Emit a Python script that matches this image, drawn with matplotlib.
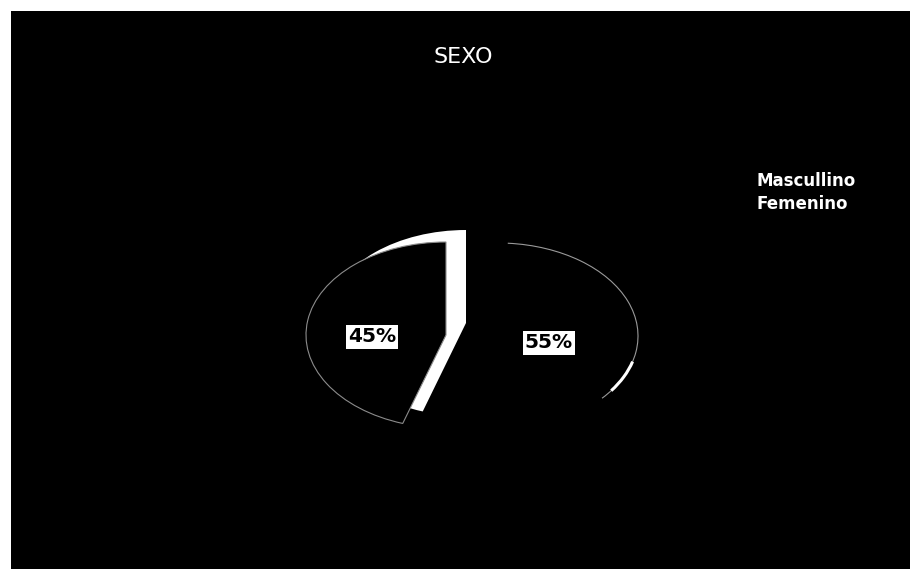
import matplotlib.pyplot as plt
from matplotlib.patches import Rectangle, Arc

# data
labels = ['Mascullino', 'Femenino']
shares = [55, 45]
title = 'SEXO'

# pixel geometry of the reference (910 x 569)
W, H = 910, 569
CX, CY = 466, 323      # centre of the un-shifted pie
RX, RY = 140, 93       # pixels per data unit


def to_data(px, py):
    return (px - CX) / RX, (CY - py) / RY


fig = plt.figure(figsize=(W / 100, H / 100), dpi=100, facecolor='white')

# black page with a thin white margin on top and left (scan)
fig.patches.append(Rectangle((11 / W, 0), 1 - 11 / W, 1 - 11 / H, transform=fig.transFigure,
                             facecolor='black', edgecolor='none', zorder=-5))

ax = fig.add_axes([(CX - 2 * RX) / W, 1 - (CY + 2 * RY) / H, 4 * RX / W, 4 * RY / H])
ax.patch.set_visible(False)

common = dict(startangle=90, counterclock=False)
edge = dict(edgecolor='#8c8c8c', linewidth=0.8)

# white side face of the Femenino slice
under, _ = ax.pie(shares, colors=['none', 'white'], wedgeprops=dict(linewidth=0), **common)
under[0].set_visible(False)

# Femenino slice, shifted left/down
fem, _, fem_txt = ax.pie(shares, colors=['none', 'black'], center=to_data(CX - 20, CY + 12),
                         autopct='%1.0f%%', wedgeprops=edge, **common)
fem[0].set_visible(False)
fem_txt[0].set_visible(False)

# Mascullino slice, exploded to the right (only its rim shows in the scan)
mas_center = to_data(CX + 32, CY + 13)
mas, _, mas_txt = ax.pie(shares, colors=['black', 'none'], center=mas_center,
                         autopct='%1.0f%%', wedgeprops=dict(linewidth=0), **common)
mas[1].set_visible(False)
mas_txt[1].set_visible(False)
ax.add_patch(Arc(mas_center, 2, 2, theta1=-42, theta2=86, color='#9a9a9a', lw=0.8))
ax.add_patch(Arc(mas_center, 2, 2, theta1=-36, theta2=-16, color='white', lw=2.2))

box = dict(boxstyle='square,pad=0.12', facecolor='white', edgecolor='none')
for t, pos in [(fem_txt[1], (372, 337)), (mas_txt[0], (549, 343))]:
    t.set_position(to_data(*pos))
    t.set_fontsize(14.5)
    t.set_fontweight('bold')
    t.set_family('DejaVu Sans')
    t.set_color('black')
    t.set_bbox(box)
    t.set_ha('center')
    t.set_va('center')

ax.set_xlim(-2, 2)
ax.set_ylim(-2, 2)
ax.set_aspect('auto')
ax.axis('off')

fig.text(463 / W, 1 - 57 / H, title, color='white', fontsize=16,
         family='DejaVu Sans', ha='center', va='center')

leg = fig.legend([mas[0], fem[1]], labels, loc='upper left',
                 bbox_to_anchor=(718 / W, 1 - 157 / H), frameon=False,
                 handlelength=0.8, handletextpad=0.6, labelspacing=0.3,
                 prop=dict(family='DejaVu Sans', weight='bold', size=12))
for t in leg.get_texts():
    t.set_color('white')
for h in leg.legend_handles:
    h.set_edgecolor('none')
    h.set_facecolor('black')

fig.savefig('out.png', dpi=100, facecolor='white')
